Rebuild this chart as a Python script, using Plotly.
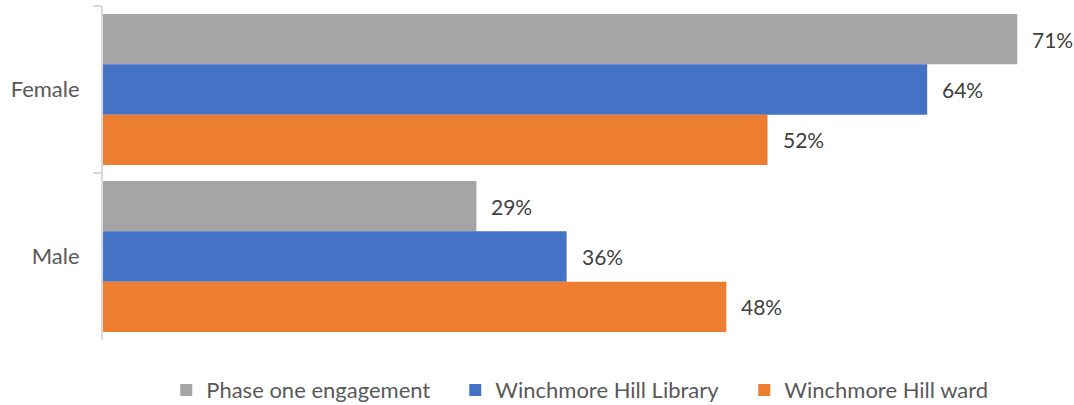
import plotly.graph_objects as go

# data
categories = ["Female", "Male"]
series_names = ["Phase one engagement", "Winchmore Hill Library", "Winchmore Hill ward"]
phase_one = [71.0, 29.0]
library = [64.0, 36.0]
ward = [51.6, 48.4]
labels = [["71%", "29%"], ["64%", "36%"], ["52%", "48%"]]

COLORS = ["#A5A5A5", "#4472C4", "#ED7D31"]
FONT = "Lato"
VALUE_COLOR = "#404040"
TEXT_COLOR = "#595959"
AXIS_COLOR = "#D9D9D9"

fig = go.Figure()
values = [phase_one, library, ward]
for i, name in enumerate(series_names):
    fig.add_trace(go.Bar(
        y=categories, x=values[i], name=name, orientation="h",
        marker=dict(color=COLORS[i], line=dict(width=0)),
    ))

# value labels, shifted to sit beside each bar in its group
bar_px = 50.3
for i in range(len(series_names)):
    for j, cat in enumerate(categories):
        fig.add_annotation(
            x=values[i][j], y=cat, text=labels[i][j], showarrow=False,
            xanchor="left", xshift=13, yshift=(1 - i) * bar_px,
            font=dict(family=FONT, size=21, color=VALUE_COLOR),
        )

fig.update_layout(
    width=1074, height=405,
    margin=dict(l=103, r=0, t=6, b=65, autoexpand=False),
    plot_bgcolor="white", paper_bgcolor="white",
    barmode="group", bargap=0.096, bargroupgap=0,
    showlegend=True,
    legend=dict(
        orientation="h", x=0.5116, xanchor="center", y=-0.15, yanchor="middle",
        itemwidth=30, entrywidth=244,
        font=dict(family=FONT, size=22, color=TEXT_COLOR),
    ),
    font=dict(family=FONT, size=22, color=TEXT_COLOR),
)
fig.update_xaxes(range=[0, 75.4], visible=False, showgrid=False)
fig.update_yaxes(
    autorange="reversed", automargin=False,
    showline=True, linecolor=AXIS_COLOR, linewidth=2,
    ticks="outside", tickson="boundaries", ticklen=8, tickcolor=AXIS_COLOR, tickwidth=2,
    showgrid=False, ticklabelstandoff=17,
    tickfont=dict(family=FONT, size=22, color=TEXT_COLOR),
)

# drop the browser's default body margin so the figure sits at the page corner
fig.write_html("out.html", config={"displayModeBar": False},
               post_script="document.body.style.margin='0';")
